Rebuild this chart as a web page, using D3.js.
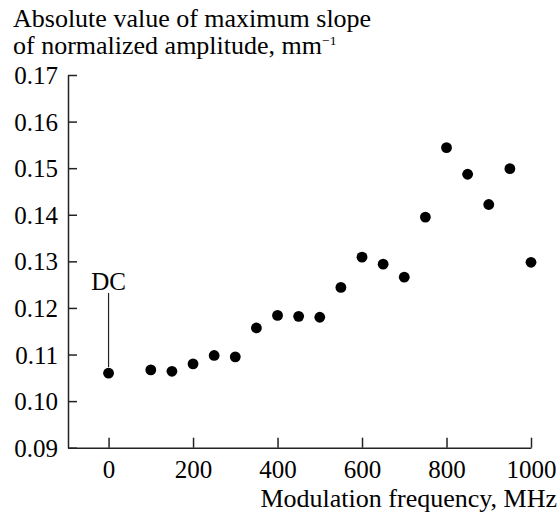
<!DOCTYPE html>
<html><head><meta charset="utf-8">
<script src="https://cdn.jsdelivr.net/npm/d3@7"></script>
<style>html,body{margin:0;padding:0;background:#fff}svg{display:block}</style>
</head><body>
<script>
const freqs = [0, 100, 150, 200, 250, 300, 350, 400, 450, 500, 550, 600, 650, 700, 750, 800, 850, 900, 950, 1000];
const slopes = [0.1060, 0.1067, 0.1064, 0.1080, 0.1098, 0.1095, 0.1157, 0.1184, 0.1182, 0.1180, 0.1244, 0.1309, 0.1294, 0.1266, 0.1395, 0.1544, 0.1487, 0.1422, 0.1499, 0.1298];
const xTicks = [0, 200, 400, 600, 800, 1000];
const yTicks = [0.09, 0.10, 0.11, 0.12, 0.13, 0.14, 0.15, 0.16, 0.17];
const yTitle = ["Absolute value of maximum slope", "of normalized amplitude, mm"];
const yTitleSup = "\u22121";
const xTitle = "Modulation frequency, MHz";
const dcLabel = "DC";

const W = 560, H = 514;
const font = "'Liberation Serif', 'Times New Roman', serif";
const svg = d3.select("body").append("svg").attr("width", W).attr("height", H);

const x = d3.scaleLinear().domain([-96, 1000]).range([68, 531]);
const y = d3.scaleLinear().domain([0.09, 0.17]).range([447.7, 75]);

const axisColor = "#222";

// y axis
const gy = svg.append("g").attr("transform", `translate(${x(-96)},0)`)
  .call(d3.axisRight(y).tickValues(yTicks).tickSize(9).tickSizeOuter(0).tickFormat(d3.format(".2f")));
gy.select(".domain").attr("stroke", axisColor).attr("stroke-width", 1.5);
gy.selectAll(".tick line").attr("stroke", axisColor).attr("stroke-width", 1.5);
gy.selectAll(".tick text").attr("x", -10).attr("text-anchor", "end").attr("dy", "0.34em")
  .attr("font-family", font).attr("font-size", 25).attr("fill", "#000");

// x axis
const gx = svg.append("g").attr("transform", `translate(0,${y(0.09)})`)
  .call(d3.axisTop(x).tickValues(xTicks).tickSize(10).tickSizeOuter(0).tickFormat(d3.format("d")));
gx.select(".domain").attr("stroke", axisColor).attr("stroke-width", 1.5);
gx.selectAll(".tick line").attr("stroke", axisColor).attr("stroke-width", 1.5);
gx.selectAll(".tick text").attr("y", 30).attr("dy", 0)
  .attr("font-family", font).attr("font-size", 25).attr("fill", "#000");

// titles
svg.append("text").attr("x", 13).attr("y", 26.5)
  .attr("font-family", font).attr("font-size", 26).attr("fill", "#000").text(yTitle[0]);
const t2 = svg.append("text").attr("x", 13).attr("y", 54)
  .attr("font-family", font).attr("font-size", 26).attr("fill", "#000");
t2.append("tspan").text(yTitle[1]);
t2.append("tspan").attr("dy", -9.5).attr("font-size", 13.5).text(yTitleSup);

svg.append("text").attr("x", 557).attr("y", 507).attr("text-anchor", "end")
  .attr("font-family", font).attr("font-size", 26).attr("fill", "#000").text(xTitle);

// DC annotation
svg.append("line").attr("x1", x(freqs[0])).attr("x2", x(freqs[0]))
  .attr("y1", 293).attr("y2", y(slopes[0]) - 6)
  .attr("stroke", "#222").attr("stroke-width", 1.2);
svg.append("text").attr("x", x(freqs[0])).attr("y", 290).attr("text-anchor", "middle")
  .attr("font-family", font).attr("font-size", 25).attr("fill", "#000").text(dcLabel);

// points
svg.append("g").selectAll("circle").data(freqs).join("circle")
  .attr("cx", (d) => x(d)).attr("cy", (d, i) => y(slopes[i])).attr("r", 5.4).attr("fill", "#000");
</script>
</body></html>
